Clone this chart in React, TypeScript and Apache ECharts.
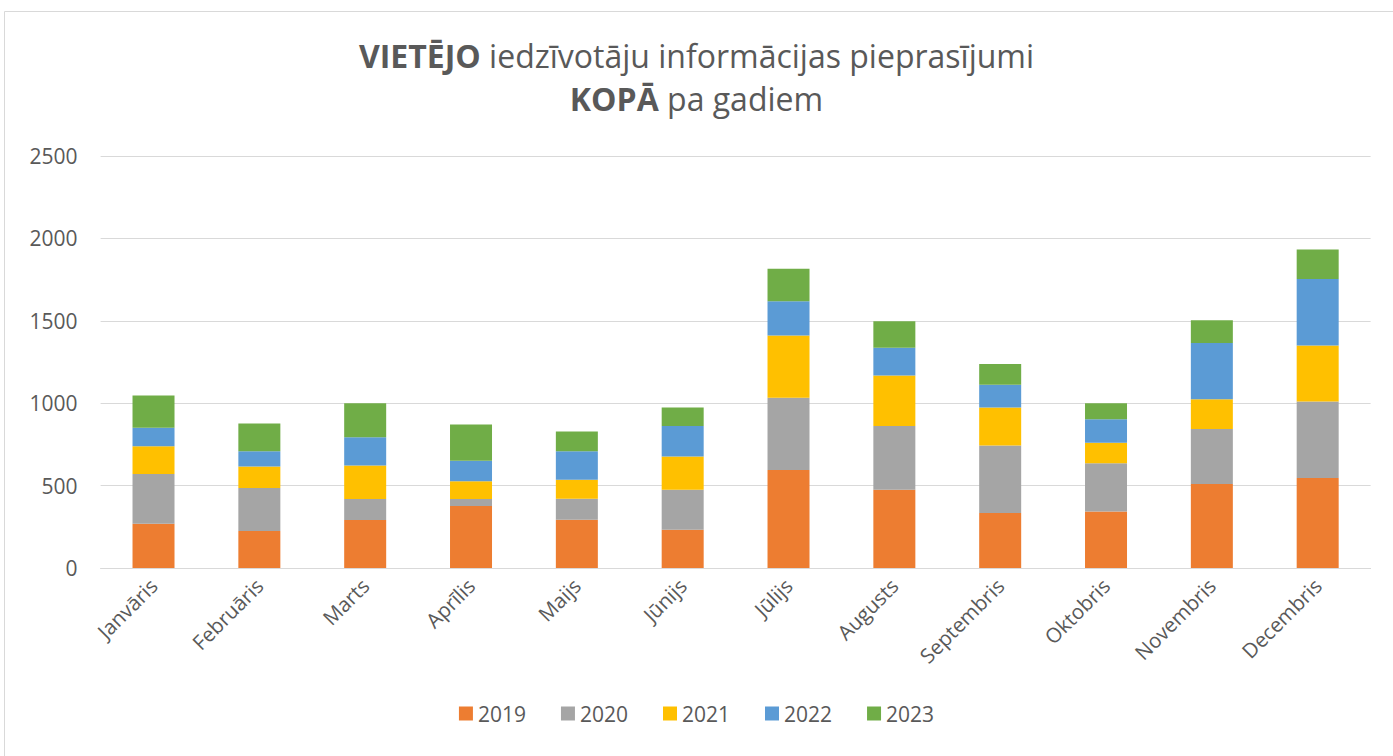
import React, { useEffect, useRef } from "react";
import * as echarts from "echarts";

const months = [
  "Janvāris", "Februāris", "Marts", "Aprīlis", "Maijs", "Jūnijs",
  "Jūlijs", "Augusts", "Septembris", "Oktobris", "Novembris", "Decembris",
];
const years = ["2019", "2020", "2021", "2022", "2023"];
const v2019 = [269, 224, 291, 376, 293, 232, 594, 475, 334, 343, 509, 546];
const v2020 = [301, 261, 127, 42, 127, 243, 439, 386, 409, 292, 334, 465];
const v2021 = [169, 131, 204, 109, 115, 202, 378, 307, 231, 125, 181, 339];
const v2022 = [112, 93, 172, 124, 174, 184, 207, 169, 138, 143, 342, 404];
const v2023 = [196, 168, 206, 220, 120, 113, 198, 161, 126, 97, 137, 179];
const colors = ["#ED7D31", "#A5A5A5", "#FFC000", "#5B9BD5", "#70AD47"];
const yTicks = { min: 0, max: 2500, interval: 500 };

const FONT = "'Open Sans', sans-serif";
const TXT = "#595959";

export default function App() {
  const ref = useRef<HTMLDivElement>(null);
  useEffect(() => {
    if (!ref.current) return;
    const chart = echarts.init(ref.current, undefined, { renderer: "svg" });
    const all = [v2019, v2020, v2021, v2022, v2023];
    chart.setOption({
      animation: false,
      backgroundColor: "#ffffff",
      textStyle: { fontFamily: FONT },
      graphic: [
        {
          type: "rect",
          shape: { x: 4.5, y: 11.5, width: 1420, height: 800 },
          style: { fill: "none", stroke: "#D9D9D9", lineWidth: 1 },
          silent: true,
        },
      ],
      title: {
        left: "center",
        top: 29,
        text: "{b|VIETĒJO}{r| iedzīvotāju informācijas pieprasījumi}\n{b|KOPĀ}{r| pa gadiem}",
        textStyle: {
          rich: {
            b: { fontFamily: FONT, fontSize: 32, fontWeight: "bold", color: TXT, lineHeight: 43 },
            r: { fontFamily: FONT, fontSize: 32, fontWeight: "normal", color: TXT, lineHeight: 43 },
          },
        },
      },
      grid: { left: 100.6, right: 22.4, top: 156, bottom: 188, containLabel: false },
      legend: {
        bottom: 27,
        left: "center",
        icon: "rect",
        itemWidth: 14,
        itemHeight: 14,
        itemGap: 35,
        textStyle: { fontFamily: FONT, fontSize: 21, color: TXT, padding: [0, 0, 0, 0] },
        data: years,
      },
      xAxis: {
        type: "category",
        data: months,
        axisLine: { lineStyle: { color: "#D9D9D9", width: 1 } },
        axisTick: { show: false },
        axisLabel: {
          rotate: 45,
          interval: 0,
          fontFamily: FONT,
          fontSize: 20.5,
          color: TXT,
          margin: 14,
        },
      },
      yAxis: {
        type: "value",
        min: yTicks.min,
        max: yTicks.max,
        interval: yTicks.interval,
        axisLine: { show: false },
        axisTick: { show: false },
        splitLine: { lineStyle: { color: "#D9D9D9", width: 1 } },
        axisLabel: {
          fontFamily: FONT,
          fontSize: 21,
          color: TXT,
          margin: 23,
          formatter: (v: number) => String(v),
        },
      },
      series: years.map((y, i) => ({
        name: y,
        type: "bar",
        stack: "total",
        barWidth: 42,
        data: all[i],
        itemStyle: { color: colors[i] },
      })),
    });
    return () => chart.dispose();
  }, []);
  return (
    <div
      ref={ref}
      style={{ position: "absolute", left: 0, top: 0, width: 1393, height: 756 }}
    />
  );
}
